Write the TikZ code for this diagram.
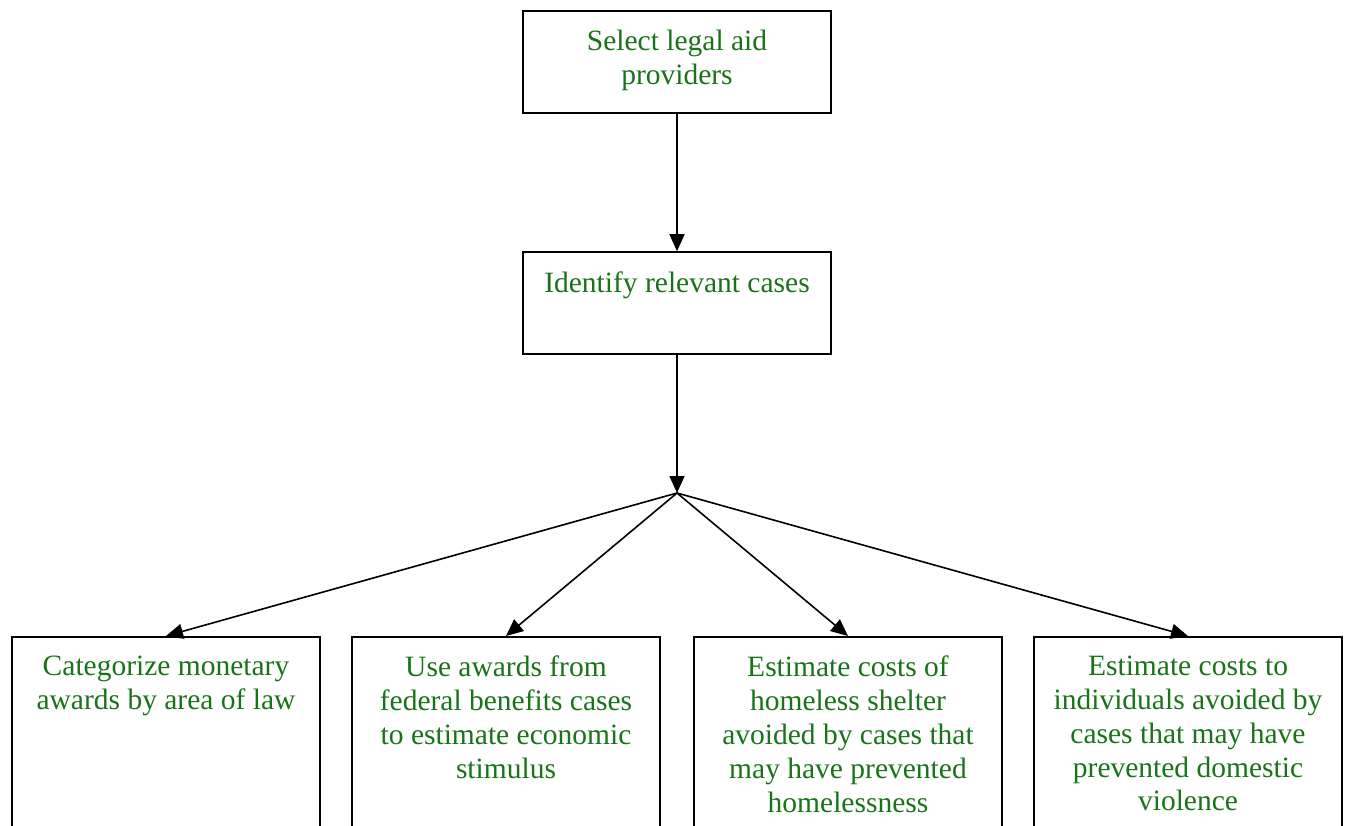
\documentclass[tikz,border=0pt]{standalone}
\usepackage{fontspec}
\setmainfont{Liberation Serif}
\usetikzlibrary{arrows.meta,positioning}
\definecolor{stepgreen}{RGB}{25,115,25}
\begin{document}
\begin{tikzpicture}[x=1pt,y=-1pt,
	box/.style={draw,line width=1.5pt,minimum width=308pt,minimum height=102pt,inner sep=0pt},
	tallbox/.style={box,minimum height=260pt},
	txt/.style={text=stepgreen,align=center,anchor=north,inner sep=0pt,font=\fontsize{29.5}{33.8}\selectfont},
	arr/.style={line width=1.6pt,-{Triangle[length=17pt,width=15pt]}}]
	\useasboundingbox (0,0) rectangle (1348,826);
	\node[box] (select) at (677,62) {};
	\node[box] (identify) at (677,303) {};
	\coordinate (hub) at (677,493);
	\node[tallbox,anchor=north] (awards) at (166,636) {};
	\node[tallbox,anchor=north] (stimulus) at (506,636) {};
	\node[tallbox,anchor=north] (shelter) at (848,636) {};
	\node[tallbox,anchor=north] (violence) at (1188,636) {};
	% texts sit at the top of each box
	\node[txt] at ([yshift=-20pt]select.north) {Select legal aid\\providers};
	\node[txt] at ([yshift=-20pt]identify.north) {Identify relevant cases};
	\node[txt] at ([yshift=-20pt]awards.north) {Categorize monetary\\awards by area of law};
	\node[txt] at ([yshift=-20pt]stimulus.north) {Use awards from\\federal benefits cases\\to estimate economic\\stimulus};
	\node[txt] at ([yshift=-20pt]shelter.north) {Estimate costs of\\homeless shelter\\avoided by cases that\\may have prevented\\homelessness};
	\node[txt] at ([yshift=-20pt]violence.north) {Estimate costs to\\individuals avoided by\\cases that may have\\prevented domestic\\violence};
	\draw[arr] (select) -- (identify);
	\draw[arr] (identify) -- (hub);
	\draw[arr] (hub) -- (awards.north);
	\draw[arr] (hub) -- (stimulus.north);
	\draw[arr] (hub) -- (shelter.north);
	\draw[arr] (hub) -- (violence.north);
\end{tikzpicture}
\end{document}
